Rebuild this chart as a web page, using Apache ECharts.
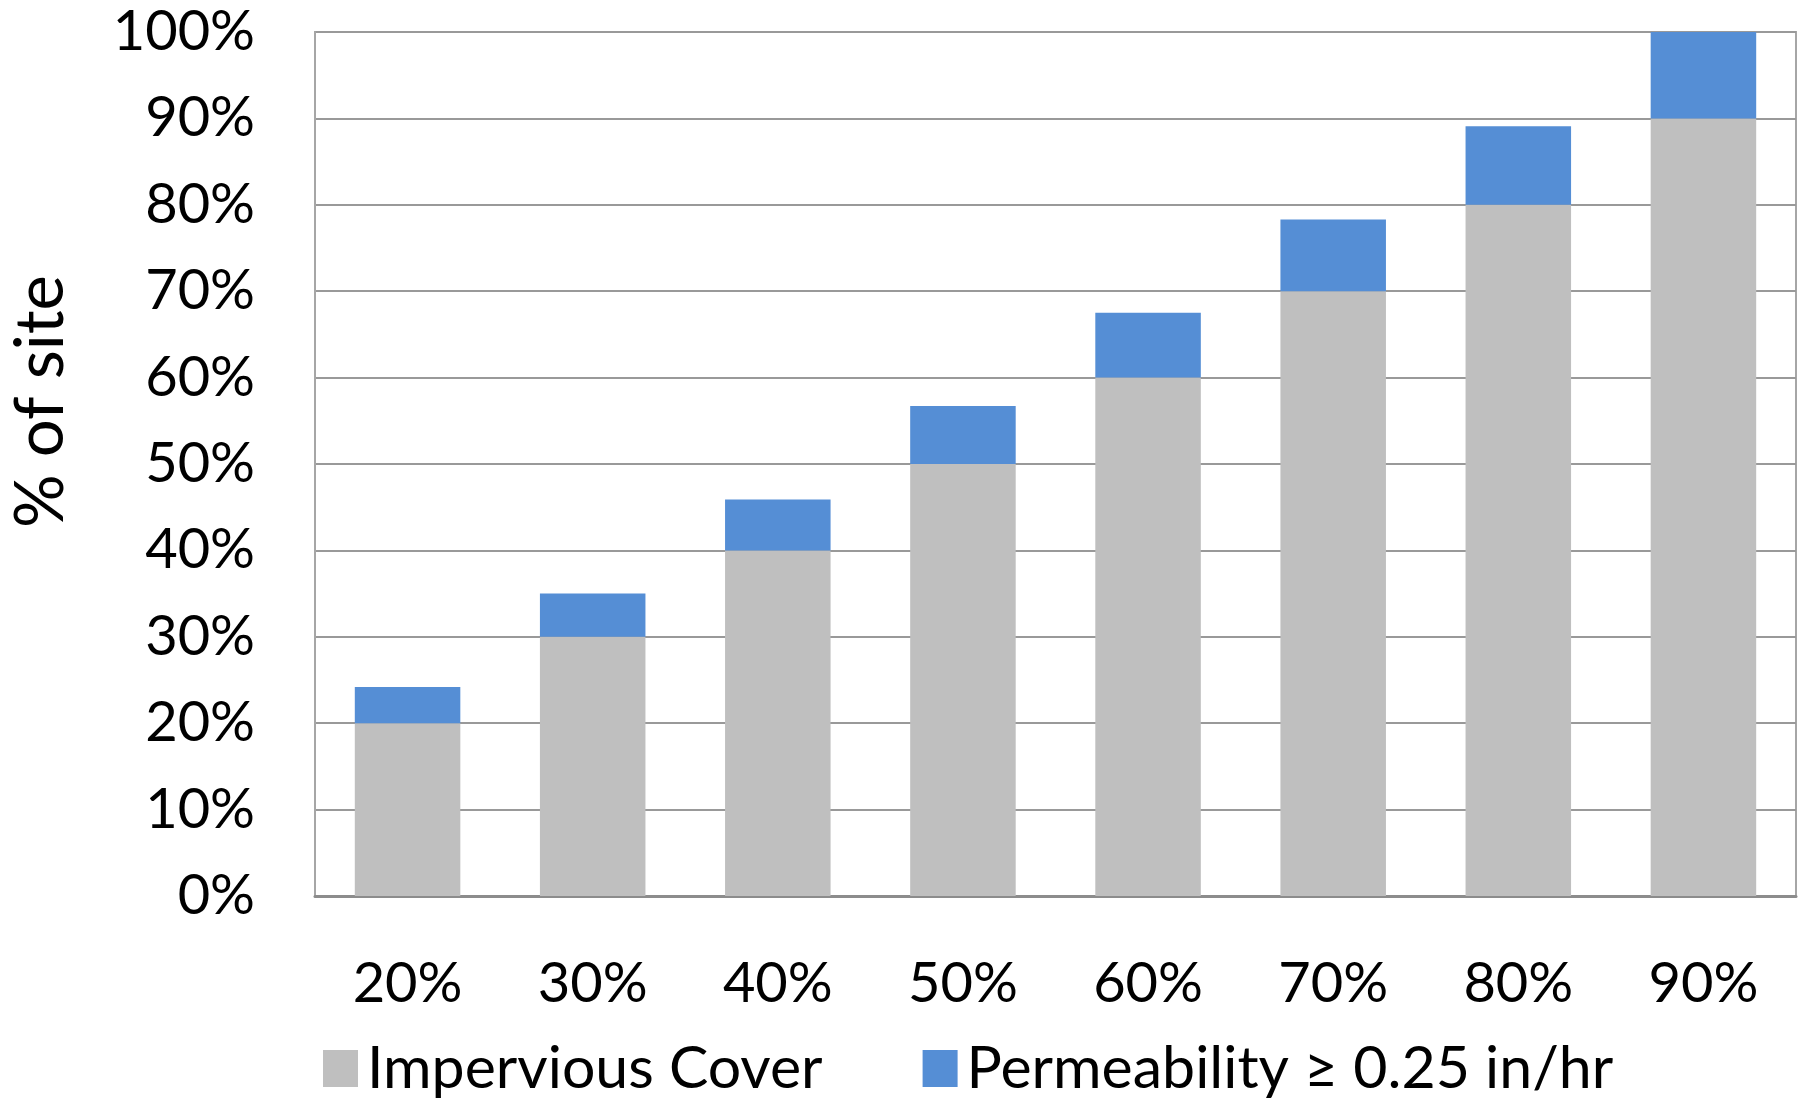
<!DOCTYPE html>
<html>
<head>
<meta charset="utf-8">
<script src="https://cdn.jsdelivr.net/npm/echarts@6/dist/echarts.min.js"></script>
<style>
  html, body { margin: 0; padding: 0; background: #fff; }
  #main { width: 1808px; height: 1100px; }
</style>
</head>
<body>
<div id="main"></div>
<script>
// site imperviousness categories
var categories = ['20%', '30%', '40%', '50%', '60%', '70%', '80%', '90%'];
// % of site, stacked
var impervious = [20, 30, 40, 50, 60, 70, 80, 90];
var permeable = [4.2, 5.0, 5.9, 6.7, 7.5, 8.3, 9.1, 10.0];
var yTicks = [0, 10, 20, 30, 40, 50, 60, 70, 80, 90, 100];

(function () {
    var myChart = echarts.init(document.getElementById('main'));
    var font = 'Lato';
    var option = {
        animation: false,
        color: ['#BFBFBF', '#558ED5'],
        grid: {
            left: 315,
            right: 12,
            top: 32,
            bottom: 204,
            show: true,
            borderColor: '#A6A6A6',
            borderWidth: 2
        },
        legend: {
            left: 318,
            top: 1034,
            itemWidth: 35,
            itemHeight: 37,
            itemGap: 100,
            icon: 'rect',
            textStyle: {
                fontFamily: font,
                fontSize: 59,
                color: '#000',
                padding: [0, 0, 0, 4]
            },
            data: ['Impervious Cover', 'Permeability \u2265 0.25 in/hr']
        },
        graphic: [
            {
                type: 'text',
                left: 8,
                top: 275,
                rotation: Math.PI / 2,
                style: {
                    text: '% of site',
                    font: '67px Lato',
                    fill: '#000'
                }
            }
        ],
        xAxis: {
            type: 'category',
            data: categories,
            axisLine: { lineStyle: { color: '#8C8C8C', width: 3 } },
            axisTick: { show: false },
            axisLabel: {
                margin: 60,
                fontFamily: font,
                fontSize: 56,
                color: '#000'
            }
        },
        yAxis: {
            type: 'value',
            min: yTicks[0],
            max: yTicks[yTicks.length - 1],
            interval: 10,
            axisLine: { show: true, lineStyle: { color: '#A6A6A6', width: 2 } },
            axisTick: { show: false },
            splitLine: { lineStyle: { color: '#999999', width: 2 } },
            axisLabel: {
                margin: 60,
                fontFamily: font,
                fontSize: 56,
                color: '#000',
                formatter: '{value}%'
            }
        },
        series: [
            {
                name: 'Impervious Cover',
                type: 'bar',
                stack: 'site',
                barWidth: '57%',
                data: impervious
            },
            {
                name: 'Permeability \u2265 0.25 in/hr',
                type: 'bar',
                stack: 'site',
                barWidth: '57%',
                data: permeable
            }
        ]
    };
    myChart.setOption(option);
})();
</script>
</body>
</html>
